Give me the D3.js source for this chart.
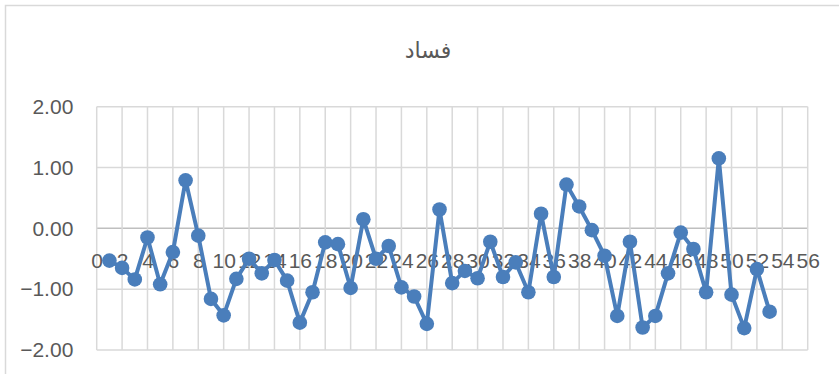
<!DOCTYPE html>
<html>
<head>
<meta charset="utf-8">
<script src="https://cdn.jsdelivr.net/npm/d3@7"></script>
<style>
  html, body { margin: 0; padding: 0; background: #ffffff; }
  svg { display: block; }
</style>
</head>
<body>
<svg id="chart" width="839" height="374"></svg>
<script>
// Series: index 1..53 and the corresponding values
const chartTitle = "فساد";
const xIndex = d3.range(1, 54);
const values = [
  -0.53, -0.65, -0.84, -0.15, -0.92, -0.39, 0.79, -0.12, -1.16, -1.43,
  -0.83, -0.50, -0.74, -0.52, -0.86, -1.55, -1.05, -0.23, -0.26, -0.98,
  0.15, -0.50, -0.29, -0.97, -1.12, -1.57, 0.31, -0.90, -0.70, -0.82,
  -0.22, -0.80, -0.56, -1.05, 0.24, -0.80, 0.72, 0.36, -0.03, -0.45,
  -1.44, -0.22, -1.63, -1.44, -0.74, -0.07, -0.34, -1.05, 1.15, -1.09,
  -1.64, -0.67, -1.37
];
const xTicks = d3.range(0, 57, 2);
const yTicks = [-2, -1, 0, 1, 2];

const svg = d3.select("#chart");
const W = 839, H = 374;
const plot = { left: 96.7, right: 807.7, top: 106.7, bottom: 350 };

const x = d3.scaleLinear().domain([0, 56]).range([plot.left, plot.right]);
const y = d3.scaleLinear().domain([-2, 2]).range([plot.bottom, plot.top]);

const textColor = "#595959";
const gridColor = "#d9d9d9";
const lineColor = "#4a7ebb";
const font = "'Liberation Sans', Arial, sans-serif";

// Chart frame
svg.append("rect")
  .attr("x", 5.5).attr("y", 5.5)
  .attr("width", W + 20).attr("height", H + 20)
  .attr("fill", "#ffffff")
  .attr("stroke", gridColor).attr("stroke-width", 1.5);

// Title
svg.append("text")
  .attr("x", 428).attr("y", 58)
  .attr("text-anchor", "middle")
  .attr("font-family", "'DejaVu Sans', sans-serif")
  .attr("font-size", 22)
  .attr("fill", textColor)
  .text(chartTitle);

// Gridlines
const grid = svg.append("g");
grid.selectAll("line.h").data(yTicks).join("line")
  .attr("class", "h")
  .attr("x1", plot.left).attr("x2", plot.right)
  .attr("y1", d => y(d)).attr("y2", d => y(d))
  .attr("stroke", d => d === 0 ? "#bfbfbf" : gridColor)
  .attr("stroke-width", 1.5);
grid.selectAll("line.v").data(xTicks).join("line")
  .attr("class", "v")
  .attr("x1", d => x(d)).attr("x2", d => x(d))
  .attr("y1", plot.top).attr("y2", plot.bottom)
  .attr("stroke", gridColor)
  .attr("stroke-width", 1.5);

// Y axis labels
const yAxis = svg.append("g")
  .attr("transform", `translate(${plot.left},0)`)
  .call(d3.axisLeft(y).tickValues(yTicks).tickSize(0).tickPadding(23.4).tickFormat(d3.format(".2f")));
yAxis.select(".domain").remove();
yAxis.selectAll("text")
  .attr("font-family", font).attr("font-size", 21).attr("fill", textColor);

// X axis labels, sitting below the zero line
const xAxis = svg.append("g")
  .attr("transform", `translate(0,${y(0)})`)
  .call(d3.axisBottom(x).tickValues(xTicks).tickSize(0).tickPadding(24.4).tickFormat(d3.format("d")));
xAxis.select(".domain").remove();
xAxis.selectAll("text")
  .attr("font-family", font).attr("font-size", 21).attr("fill", textColor);

// Series line and markers
const pts = xIndex.map((k, i) => [k, values[i]]);
svg.append("path")
  .datum(pts)
  .attr("fill", "none")
  .attr("stroke", lineColor)
  .attr("stroke-width", 4)
  .attr("stroke-linejoin", "round")
  .attr("d", d3.line().x(d => x(d[0])).y(d => y(d[1])));

svg.append("g").selectAll("circle").data(pts).join("circle")
  .attr("cx", d => x(d[0]))
  .attr("cy", d => y(d[1]))
  .attr("r", 7.3)
  .attr("fill", lineColor);
</script>
</body>
</html>
